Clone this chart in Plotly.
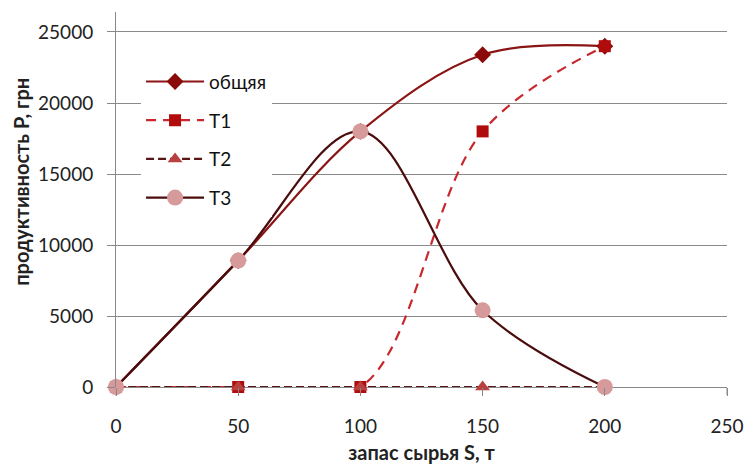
import plotly.graph_objects as go

# Raw material stock S (t) and productivity P (UAH) per technology
stock = [0, 50, 100, 150, 200]
total = [0, 8900, 18000, 23400, 24000]
t1 = [0, 0, 0, 18000, 24000]
t2 = [0, 0, 0, 0, 0]
t3 = [0, 8900, 18000, 5400, 0]

series_names = ["общяя", "T1", "T2", "T3"]
x_ticks = [0, 50, 100, 150, 200, 250]
y_ticks = [0, 5000, 10000, 15000, 20000, 25000]

FONT = "Lato, 'Open Sans', sans-serif"

fig = go.Figure()

styles = [
    dict(data=total, line=dict(color="#8B1414", width=2.2, dash="solid"),
         marker=dict(symbol="diamond", size=13, color="#8B0A0A")),
    dict(data=t1, line=dict(color="#C8282D", width=2.2, dash="10px,7px"),
         marker=dict(symbol="square", size=12, color="#B00C0C")),
    dict(data=t2, line=dict(color="#5A1616", width=2.2, dash="8px,4px"),
         marker=dict(symbol="triangle-up", size=13, color="#B8403E")),
    dict(data=t3, line=dict(color="#4A0C0C", width=2.2, dash="solid"),
         marker=dict(symbol="circle", size=16, color="#D79A9A")),
]

for name, st in zip(series_names, styles):
    fig.add_trace(go.Scatter(
        x=stock, y=st["data"], name=name, mode="lines+markers",
        line=dict(shape="spline", smoothing=1.0, **st["line"]),
        marker=st["marker"], cliponaxis=False, legendgroup=name,
    ))

fig.update_layout(
    width=745, height=465,
    margin=dict(l=116, r=18, t=12, b=78),
    plot_bgcolor="white", paper_bgcolor="white",
    font=dict(family=FONT, size=19, color="#222"),
    showlegend=True,
    legend=dict(
        x=0.041, y=0.865, xanchor="left", yanchor="top",
        bgcolor="white", font=dict(size=19, color="#111"),
        itemwidth=58, tracegroupgap=11, traceorder="grouped",
    ),
    xaxis=dict(
        range=[0, 250], tickvals=x_ticks, tickformat="d", showgrid=False,
        showline=False, zeroline=False, automargin=False,
        ticks="outside", ticklen=8, tickcolor="#888",
        ticklabelstandoff=14,
        title=dict(text="<b>запас сырья S, т</b>", font=dict(size=20), standoff=10),
        tickfont=dict(size=19),
    ),
    yaxis=dict(
        range=[0, 26408], tickvals=y_ticks, tickformat="d", showgrid=True,
        gridcolor="#8a8a8a", gridwidth=1, automargin=False,
        showline=True, linecolor="#888", linewidth=1,
        zeroline=True, zerolinecolor="#888", zerolinewidth=1,
        ticks="outside", ticklen=8, tickcolor="#888",
        ticklabelstandoff=10,
        tickfont=dict(size=19),
    ),
)

# y-axis title, placed slightly above the axis centre
fig.add_annotation(
    text="<b>продуктивность P, грн</b>", textangle=-90,
    xref="paper", yref="paper", x=-0.1555, y=0.547,
    xanchor="center", yanchor="middle", showarrow=False,
    font=dict(size=20, color="#222"),
)

# right end tick of the x axis
fig.add_shape(type="line", xref="x", yref="paper", x0=250, x1=250, y0=0, y1=-0.021,
              line=dict(color="#888", width=1))

fig.write_html("out.html")
